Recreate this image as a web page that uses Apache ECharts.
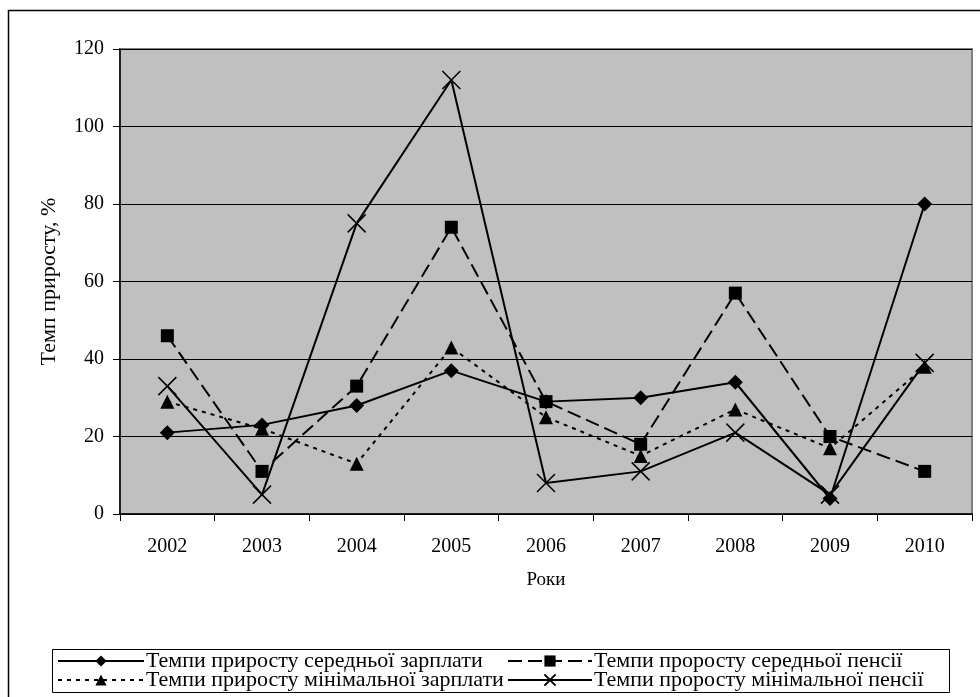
<!DOCTYPE html>
<html>
<head>
<meta charset="utf-8">
<script src="https://cdn.jsdelivr.net/npm/echarts@6/dist/echarts.min.js"></script>
<style>
  html, body { margin: 0; padding: 0; background: #fff; }
  #chart { width: 980px; height: 697px; }
</style>
</head>
<body>
<div id="chart"></div>
<script>
// years on the x axis
const years = ["2002", "2003", "2004", "2005", "2006", "2007", "2008", "2009", "2010"];

// growth rates, %
const avgSalary = [21, 23, 28, 37, 29, 30, 34, 4, 80];
const avgPension = [46, 11, 33, 74, 29, 18, 57, 20, 11];
const minSalary = [29, 22, 13, 43, 25, 15, 27, 17, 38];
const minPension = [33, 5, 75, 112, 8, 11, 21, 5, 39];

const seriesNames = [
  "Темпи приросту середньої зарплати",
  "Темпи проросту середньої пенсії",
  "Темпи приросту мінімальної зарплати",
  "Темпи проросту мінімальної пенсії"
];

const font = "Liberation Serif";
const crossPath = "path://M0,0L10,10M10,0L0,10";

function legendAt(name, left, top, w) {
  return {
    data: [name],
    left: left,
    top: top,
    itemWidth: w,
    itemHeight: 14,
    itemGap: 0,
    padding: 0,
    textStyle: { fontFamily: font, fontSize: 22, color: "#000", padding: [0, 0, 0, -3] }
  };
}

const option = {
  animation: false,
  backgroundColor: "#fff",
  graphic: [
    {
      type: "rect", z: -10,
      shape: { x: 8.5, y: 10.5, width: 1000, height: 720 },
      style: { fill: "none", stroke: "#000", lineWidth: 1.5 }
    },
    {
      type: "rect", z: -10,
      shape: { x: 52.5, y: 649.5, width: 897, height: 43 },
      style: { fill: "#fff", stroke: "#000", lineWidth: 1 }
    }
  ],
  legend: [
    legendAt(seriesNames[0], 57, 650, 86),
    legendAt(seriesNames[1], 507, 650, 84),
    legendAt(seriesNames[2], 57, 669, 86),
    legendAt(seriesNames[3], 507, 669, 84)
  ],
  grid: {
    left: 120, top: 49, right: 8, bottom: 183,
    show: true,
    backgroundColor: "#c0c0c0",
    borderColor: "#808080",
    borderWidth: 2
  },
  xAxis: {
    type: "category",
    data: years,
    boundaryGap: true,
    name: "Роки",
    nameLocation: "middle",
    nameGap: 57,
    nameTextStyle: { fontFamily: font, fontSize: 19, color: "#000" },
    axisLine: { lineStyle: { color: "#000", width: 1.5 } },
    axisTick: { show: true, length: 7, lineStyle: { color: "#000" } },
    axisLabel: { fontFamily: font, fontSize: 20, color: "#000", margin: 23 }
  },
  yAxis: {
    type: "value",
    min: 0, max: 120, interval: 20,
    name: "Темп приросту, %",
    nameLocation: "middle",
    nameGap: 60,
    nameTextStyle: { fontFamily: font, fontSize: 22, color: "#000" },
    axisLine: { show: true, lineStyle: { color: "#000", width: 1.5 } },
    axisTick: { show: true, length: 7, lineStyle: { color: "#000" } },
    axisLabel: { fontFamily: font, fontSize: 20, color: "#000", margin: 16 },
    splitLine: { show: true, lineStyle: { color: "#000", width: 1 } }
  },
  series: [
    {
      name: seriesNames[0], type: "line", data: avgSalary,
      symbol: "diamond", symbolSize: 15,
      lineStyle: { color: "#000", width: 2 },
      itemStyle: { color: "#000" }
    },
    {
      name: seriesNames[1], type: "line", data: avgPension,
      symbol: "rect", symbolSize: 13,
      lineStyle: { color: "#000", width: 2, type: [14, 6] },
      itemStyle: { color: "#000" }
    },
    {
      name: seriesNames[2], type: "line", data: minSalary,
      symbol: "triangle", symbolSize: 14,
      lineStyle: { color: "#000", width: 2, type: [4, 5] },
      itemStyle: { color: "#000" }
    },
    {
      name: seriesNames[3], type: "line", data: minPension,
      symbol: crossPath, symbolSize: 18,
      lineStyle: { color: "#000", width: 2 },
      itemStyle: { color: "#000", borderColor: "#000", borderWidth: 1.5 }
    }
  ]
};

const myChart = echarts.init(document.getElementById("chart"));
myChart.setOption(option);
</script>
</body>
</html>
